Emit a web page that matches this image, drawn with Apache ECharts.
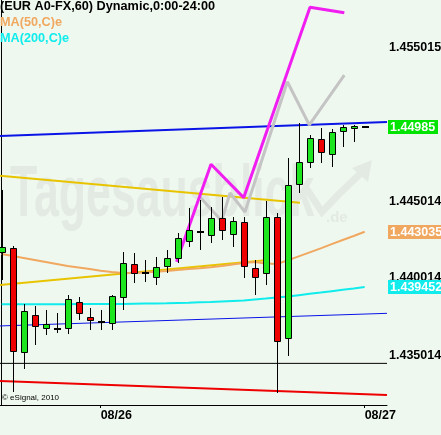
<!DOCTYPE html>
<html><head><meta charset="utf-8">
<script src="https://cdn.jsdelivr.net/npm/echarts@6/dist/echarts.min.js"></script>
<style>html,body{margin:0;padding:0;background:#eff8ef}#c{width:441px;height:435px}</style>
</head><body><div id="c"></div>
<script>
const titleText = '(EUR A0-FX,60) Dynamic,0:00-24:00';
const legendNames = ['MA(50,C)e', 'MA(200,C)e'];
const copyrightText = '\u00a9 eSignal, 2010';
const xTickIdx = [9, 33];
const xTickLabels = ['08/26', '08/27'];
const yTickValues = [1.435014, 1.445014, 1.455015];
const yHiddenTick = 1.440014; // partly covered by the MA200 tag

const opens  = [1.44170,1.44200,1.43521,1.43761,1.43677,1.43670,1.43677,1.43846,1.43752,1.43720,1.43709,1.43878,1.44092,1.44034,1.44008,1.44081,1.44135,1.44244,1.44304,1.44281,1.44391,1.44287,1.44365,1.44066,1.44034,1.44400,1.43612,1.44614,1.44755,1.44904,1.44809,1.44958,1.44977,1.44985];
const closes = [1.44207,1.43529,1.43787,1.43692,1.43705,1.43670,1.43865,1.43774,1.43731,1.43720,1.43887,1.44103,1.44038,1.44034,1.44073,1.44131,1.44261,1.44315,1.44304,1.44391,1.44315,1.44374,1.44083,1.44008,1.44398,1.43592,1.44605,1.44755,1.44911,1.44824,1.44949,1.44984,1.44988,1.44985];
const lows   = [1.43990,1.43265,1.43411,1.43566,1.43633,1.43644,1.43638,1.43731,1.43666,1.43666,1.43666,1.43796,1.43969,1.43979,1.43958,1.44034,1.44099,1.44207,1.44185,1.44229,1.44250,1.44207,1.44001,1.43893,1.43958,1.43255,1.43497,1.44557,1.44716,1.44748,1.44726,1.44856,1.44888,1.44985];
const highs  = [1.44575,1.44213,1.43833,1.43822,1.43796,1.43774,1.43893,1.43882,1.43807,1.43796,1.43893,1.44174,1.44164,1.44120,1.44142,1.44185,1.44294,1.44456,1.44510,1.44466,1.44531,1.44401,1.44401,1.44120,1.44503,1.44427,1.44781,1.45012,1.44932,1.44975,1.44969,1.44997,1.44997,1.44985];

const ma50  = [1.44159,1.44146,1.44133,1.44120,1.44107,1.44094,1.44081,1.44072,1.44062,1.44051,1.44042,1.44036,1.44036,1.44039,1.44044,1.44049,1.44055,1.44062,1.44066,1.44073,1.44081,1.44091,1.44101,1.44107,1.44098,1.44094,1.44118,1.44144,1.44170,1.44196,1.44223,1.44250,1.44276,1.443035];
const ma200 = [1.43833,1.43833,1.43833,1.43833,1.43833,1.43833,1.43833,1.43834,1.43834,1.43835,1.43835,1.43835,1.43836,1.43837,1.43838,1.43839,1.43841,1.43843,1.43846,1.43848,1.43851,1.43854,1.43857,1.43864,1.43870,1.43877,1.43883,1.43892,1.43901,1.43909,1.43918,1.43927,1.43935,1.439452];

const yellowUpX = [-0.15, 27.12], yellowUpY = [1.44668, 1.44492];
const yellowLoX = [-0.15, 24.0],  yellowLoY = [1.43958, 1.44118];
const blueUpX = [-0.15, 35.03], blueUpY = [1.44925, 1.45016];
const blueLoX = [-0.15, 35.03], blueLoY = [1.43692, 1.43774];
const blackX = [-0.15, 35.03], blackY = [1.43449, 1.43449];
const redX = [-0.15, 35.03], redY = [1.43334, 1.43244];
const magentaX = [15.9, 19.03, 22.0, 28.03, 31.15];
const magentaY = [1.44109, 1.44742, 1.44525, 1.45761, 1.45726];
const grayX = [18.03, 20.0, 20.76, 22.12, 25.97, 27.97, 31.15];
const grayY = [1.44529, 1.44374, 1.44555, 1.44432, 1.45278, 1.44997, 1.45321];

const tagValues = [1.44985, 1.443035, 1.439452];
const tagTexts = ['1.44985', '1.443035', '1.439452'];
const tagColors = ['#00e400', '#f0a860', '#10ecec'];
const tagWidths = [50, 54, 54];
const X_MAX = 35.03;

const FONT = '"Liberation Sans", Arial, sans-serif';
const zip = (xs, ys) => xs.map((x, i) => [x, ys[i]]);

function renderCandle(params, api) {
  const i = api.value(0), o = api.value(1), c = api.value(2), lo = api.value(3), hi = api.value(4);
  const pO = api.coord([i, o]), pC = api.coord([i, c]), pL = api.coord([i, lo]), pH = api.coord([i, hi]);
  const cx = Math.round(pO[0]) + 0.5;
  const top = Math.min(pO[1], pC[1]), bot = Math.max(pO[1], pC[1]);
  const children = [];
  if (pL[1] - pH[1] > 0.5) {
    children.push({type: 'line', shape: {x1: cx, y1: Math.round(pH[1]), x2: cx, y2: Math.round(pL[1])}, style: {stroke: '#000', lineWidth: 1}});
  }
  if (bot - top < 1.5) {
    children.push({type: 'rect', shape: {x: cx - 3.5, y: Math.round(top) - 1, width: 7, height: 2}, style: {fill: '#000'}});
  } else {
    const t = Math.round(top), b = Math.round(bot);
    children.push({type: 'rect', shape: {x: cx - 3, y: t + 0.5, width: 6, height: b - t},
      style: {fill: c >= o ? '#1ee61e' : '#ee0000', stroke: '#000', lineWidth: 1}});
  }
  return {type: 'group', children};
}

function renderTag(params, api) {
  const k = params.dataIndex;
  const p = api.coord([X_MAX, api.value(1)]);
  const x0 = Math.round(p[0]) + 1, yc = Math.round(p[1]);
  const children = [];
  if (k === tagValues.length - 1) {
    const ph = api.coord([X_MAX, yHiddenTick]);
    children.push({type: 'text', x: x0 + 1, y: Math.round(ph[1]),
      style: {text: yHiddenTick.toFixed(6), font: 'bold 12.5px ' + FONT, fill: '#000', verticalAlign: 'middle'}});
  }
  children.push({type: 'rect', shape: {x: x0, y: yc - 7, width: tagWidths[k], height: 14}, style: {fill: tagColors[k]}});
  children.push({type: 'text', x: x0 + 2, y: yc + 0.5,
    style: {text: tagTexts[k], font: 'bold 12.5px ' + FONT, fill: '#fff', verticalAlign: 'middle'}});
  return {type: 'group', children};
}

const lineSeries = (name, data, color, width) => ({
  name, type: 'line', data, showSymbol: false, symbol: 'none', silent: true,
  lineStyle: {color, width}, z: 3, animation: false
});

const chart = echarts.init(document.getElementById('c'), null, {renderer: 'canvas'});
chart.setOption({
  animation: false,
  backgroundColor: '#eff8ef',
  grid: {left: 0, right: 54, top: 0, bottom: 30, containLabel: false, outerBoundsMode: 'none'},
  xAxis: {
    type: 'value', min: -0.15, max: X_MAX,
    axisLine: {show: true, onZero: false, lineStyle: {color: '#000', width: 1}},
    axisTick: {show: true, length: 3, customValues: xTickIdx, lineStyle: {color: '#000'}},
    axisLabel: {customValues: xTickIdx, formatter: v => xTickLabels[xTickIdx.indexOf(Math.round(v))] || '',
      align: 'left', fontWeight: 'bold', fontSize: 12.5, fontFamily: FONT, color: '#000', margin: 4},
    splitLine: {show: false}
  },
  yAxis: {
    type: 'value', position: 'right', min: 1.431787, max: 1.458085, scale: true,
    axisLine: {show: true, lineStyle: {color: '#000', width: 1}},
    axisTick: {show: false},
    axisLabel: {customValues: yTickValues, formatter: v => v.toFixed(6),
      fontWeight: 'bold', fontSize: 12.5, fontFamily: FONT, color: '#000', margin: 2},
    splitLine: {show: false}
  },
  graphic: [
    {id: 'wm1', type: 'text', x: 10, y: 160, scaleX: 0.62, z: 0, silent: true,
      style: {text: 'Tagesausblick', font: 'bold 72px ' + FONT, fill: '#e3eae3'}},
    {id: 'wm2', type: 'text', x: 326, y: 210, z: 0, silent: true,
      style: {text: '.de', font: 'bold 15px ' + FONT, fill: '#e3eae3'}},
    {id: 'wm3', type: 'polyline', z: 0, silent: true,
      shape: {points: [[306, 188], [322, 212], [338, 195], [362, 172]]},
      style: {stroke: '#e3eae3', lineWidth: 7, fill: null}},
    {id: 'wm4', type: 'polygon', z: 0, silent: true,
      shape: {points: [[352, 168], [372, 160], [368, 182]]},
      style: {fill: '#e3eae3'}},
    {id: 'title', type: 'text', x: 0, y: 0, z: 10,
      style: {text: titleText, font: 'bold 12.7px ' + FONT, fill: '#000', verticalAlign: 'top'}},
    {id: 'lg1', type: 'text', x: 0, y: 16, z: 10,
      style: {text: legendNames[0], font: 'bold 12.7px ' + FONT, fill: '#f0a860', verticalAlign: 'top'}},
    {id: 'lg2', type: 'text', x: 0, y: 32, z: 10,
      style: {text: legendNames[1], font: 'bold 12.7px ' + FONT, fill: '#10ecec', verticalAlign: 'top'}},
    {id: 'copy', type: 'text', x: 2, y: 398, z: 10,
      style: {text: copyrightText, font: '8px ' + FONT, fill: '#000', verticalAlign: 'middle'}}
  ],
  series: [
    lineSeries('yellowUp', zip(yellowUpX, yellowUpY), '#e8c400', 2),
    lineSeries('yellowLo', zip(yellowLoX, yellowLoY), '#e8c400', 2),
    lineSeries('MA50', ma50.map((v, i) => [i, v]), '#f0a860', 2),
    lineSeries('MA200', ma200.map((v, i) => [i, v]), '#10ecec', 2),
    lineSeries('blueUp', zip(blueUpX, blueUpY), '#0a14e6', 2),
    lineSeries('blueLo', zip(blueLoX, blueLoY), '#0a14e6', 1),
    lineSeries('black', zip(blackX, blackY), '#000', 1),
    lineSeries('red', zip(redX, redY), '#ee0000', 2),
    lineSeries('gray', zip(grayX, grayY), '#c4c4c4', 3),
    lineSeries('magenta', zip(magentaX, magentaY), '#f01ef0', 3),
    {
      type: 'custom', name: 'EUR', z: 5, silent: true,
      renderItem: renderCandle,
      encode: {x: 0, y: [1, 2, 3, 4]},
      data: opens.map((o, i) => [i, o, closes[i], lows[i], highs[i]])
    },
    {
      type: 'custom', name: 'tags', z: 100, silent: true, clip: false,
      renderItem: renderTag,
      encode: {x: 0, y: 1},
      data: tagValues.map(v => [X_MAX, v])
    }
  ]
});
</script></body></html>
